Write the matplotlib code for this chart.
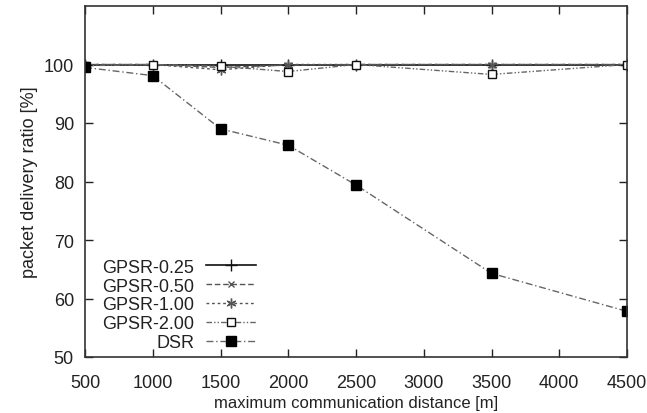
import matplotlib
matplotlib.use("Agg")
import matplotlib.pyplot as plt

plt.rcParams['font.family'] = ['Liberation Sans', 'DejaVu Sans']

distance = [500, 1000, 1500, 2000, 2500, 3500, 4500]
gpsr_025 = [100.0, 100.0, 100.0, 100.0, 100.0, 100.0, 100.0]
gpsr_050 = [100.0, 100.0, 99.5, 99.9, 100.0, 100.0, 100.0]
gpsr_100 = [100.0, 100.0, 99.1, 100.0, 100.0, 100.0, 100.0]
gpsr_200 = [99.8, 100.0, 99.7, 98.8, 100.0, 98.3, 100.0]
dsr = [99.5, 98.1, 89.0, 86.2, 79.4, 64.3, 57.8]

x_ticks = [500, 1000, 1500, 2000, 2500, 3000, 3500, 4000, 4500]
y_ticks = [50, 60, 70, 80, 90, 100]

FS = 13

fig = plt.figure(figsize=(6.47, 4.14), dpi=100)
ax = fig.add_axes([85 / 647, 1 - 358 / 414, (627 - 85) / 647, (358 - 7) / 414])

ax.plot(distance, gpsr_025, color='#111111', lw=1.2, ls='-', marker='+', ms=8, mew=1.0,
        label='GPSR-0.25')
ax.plot(distance, gpsr_050, color='#555555', lw=1.0, ls=(0, (4, 2)), marker='x', ms=5, mew=1.0,
        label='GPSR-0.50')
ax.plot(distance, gpsr_100, color='#555555', lw=1.0, ls=(0, (2, 2)), marker=(6, 2, 0), ms=7, mew=1.0,
        label='GPSR-1.00')
ax.plot(distance, gpsr_200, color='#666666', lw=1.0, ls=(0, (4, 1.5, 1, 1.5, 1, 1.5)), marker='s', ms=5.5,
        mfc='white', mec='#111111', mew=1.0, label='GPSR-2.00')
ax.plot(distance, dsr, color='#666666', lw=1.0, ls=(0, (5, 2, 1, 2)), marker='s', ms=7,
        mfc='black', mec='black', label='DSR')

ax.set_xlim(500, 4500)
ax.set_ylim(50, 110)
ax.set_xticks(x_ticks)
ax.set_yticks(y_ticks)
ax.tick_params(direction='in', length=6, width=1, top=True, right=True, labelsize=FS,
               colors='#222222')
ax.tick_params(axis='x', pad=12)
ax.tick_params(axis='y', pad=8)
for s in ax.spines.values():
    s.set_linewidth(1.2)
    s.set_color('#333333')

ax.set_xlabel('maximum communication distance [m]', fontsize=12, color='#222222', labelpad=3)
ax.set_ylabel('packet delivery ratio [%]', fontsize=FS, color='#222222', labelpad=4)

leg = ax.legend(loc='lower left', bbox_to_anchor=(8 / 542, -3 / 351), frameon=False, markerfirst=False,
                fontsize=FS, handlelength=2.8, handletextpad=0.65, labelspacing=0.1,
                borderaxespad=0.3, borderpad=0.2)
for t in leg.get_texts():
    t.set_color('#222222')

fig.savefig('out.png', dpi=100)
